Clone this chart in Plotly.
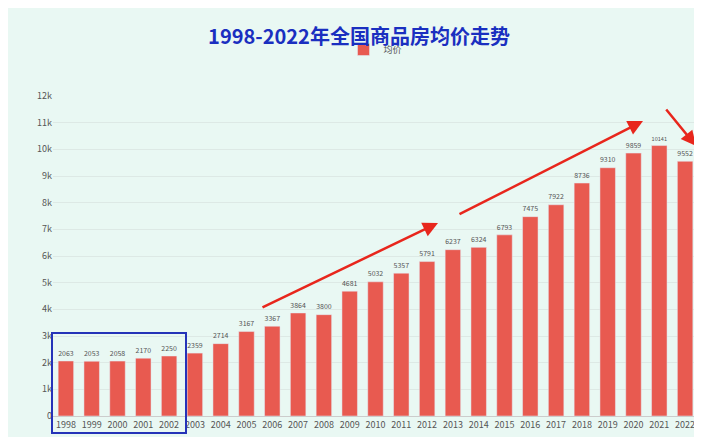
import plotly.graph_objects as go

years = [str(y) for y in range(1998, 2023)]
prices = [2063, 2053, 2058, 2170, 2250, 2359, 2714, 3167, 3367, 3864, 3800, 4681, 5032,
          5357, 5791, 6237, 6324, 6793, 7475, 7922, 8736, 9310, 9859, 10141, 9552]

fig = go.Figure(go.Bar(x=years, y=prices, name="均价", marker_color="#e85a50",
                       text=prices, textposition="outside", cliponaxis=False,
                       textfont=dict(size=9, color="#555"), width=0.6))

def px(x): return (x - 45) / 645
def py(y): return (408 - y) / 320

arrows = [((253, 300), (430, 215)), ((450, 207), (635, 113)), ((657, 100), (688, 138))]
anns = []
for (tx, ty), (hx, hy) in arrows:
    anns.append(dict(x=px(hx), y=py(hy), ax=px(tx), ay=py(ty), xref="x domain", yref="y domain",
                     axref="x domain", ayref="y domain", showarrow=True, arrowhead=2, arrowsize=1.2,
                     arrowwidth=2.5, arrowcolor="#e8261c", text=""))

fig.update_layout(
    width=702, height=437, margin=dict(l=45, r=12, t=88, b=29),
    paper_bgcolor="#e9f8f3", plot_bgcolor="#e9f8f3",
    title=dict(text="<b>1998-2022年全国商品房均价走势</b>", x=0.5, y=0.95,
               font=dict(size=20, color="#1a2fc0", family="Noto Sans CJK SC")),
    showlegend=True,
    legend=dict(orientation="h", x=0.5, xanchor="center", y=1.1, yanchor="bottom",
                font=dict(size=9, color="#555", family="Noto Sans CJK SC"), bgcolor="rgba(0,0,0,0)"),
    xaxis=dict(tickfont=dict(size=9, color="#555"), showgrid=False, linecolor="#ccc"),
    yaxis=dict(range=[0, 12000], dtick=1000, tickfont=dict(size=9, color="#555"),
               gridcolor="#dde9e5", zeroline=False),
    font=dict(family="Noto Sans CJK SC"),
    annotations=anns,
    shapes=[dict(type="rect", xref="paper", yref="paper", x0=px(44), x1=px(178),
                 y0=py(425), y1=py(325), line=dict(color="#2533b8", width=2))],
)
fig.write_html("out.html")
